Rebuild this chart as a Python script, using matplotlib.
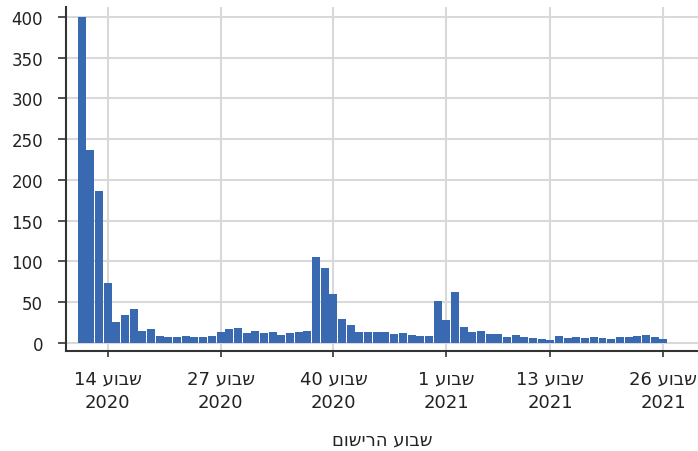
import matplotlib
matplotlib.use("Agg")
import matplotlib.pyplot as plt
import numpy as np

# Weekly counts (first bar = week 11 2020, last bar = week 26 2021)
counts = [400, 237, 186, 74, 25, 34, 41, 14, 17, 9,
          7, 7, 8, 7, 7, 8, 13, 17, 18, 12,
          14, 12, 13, 10, 12, 13, 14, 105, 92, 60,
          29, 22, 13, 13, 13, 13, 11, 12, 10, 8,
          8, 51, 28, 62, 19, 13, 15, 11, 11, 7,
          10, 7, 6, 5, 3, 8, 6, 7, 6, 7,
          6, 5, 7, 7, 8, 10, 7, 5]

tick_bar_index = [3, 16, 29, 42, 54, 67]
tick_labels = ["שבוע 14\n2020", "שבוע 27\n2020", "שבוע 40\n2020",
               "שבוע 1\n2021", "שבוע 13\n2021", "שבוע 26\n2021"]
x_title = "שבוע הרישום"
y_ticks = [0, 50, 100, 150, 200, 250, 300, 350, 400]


def is_heb(tok):
    return any('\u0590' <= c <= '\u05ff' for c in tok)


def visual_line(s):
    toks = s.split(' ')[::-1]
    return ' '.join(t[::-1] if is_heb(t) else t for t in toks)


def visual(s):
    return '\n'.join(visual_line(l) for l in s.split('\n'))


plt.rcParams['font.family'] = ['DejaVu Sans']

fig = plt.figure(figsize=(6.98, 4.52), dpi=100)
ax = fig.add_axes([66 / 698, 1 - 352 / 452, 1 - 66 / 698, (352 - 8) / 452])

x = np.arange(len(counts))
ax.bar(x, counts, width=0.92, color='#3969b1', zorder=2)

ax.set_xlim(-1.8, 71)
ax.set_ylim(-10, 412)
ax.set_yticks(y_ticks)
ax.set_yticklabels([str(v) for v in y_ticks], fontsize=12, color='#222222')
ax.set_xticks(tick_bar_index)
ax.set_xticklabels([visual(t) for t in tick_labels], fontsize=13,
                   color='#222222', linespacing=1.35, ha='center',
                   multialignment='center')

ax.grid(True, color='#d9d9d9', linewidth=1.5, zorder=0)
ax.set_axisbelow(True)

for side in ['top', 'right']:
    ax.spines[side].set_visible(False)
for side in ['left', 'bottom']:
    ax.spines[side].set_color('#333333')
    ax.spines[side].set_linewidth(1.5)

ax.tick_params(axis='y', length=5.5, width=1.2, color='#333333', pad=11)
ax.tick_params(axis='x', length=4.5, width=1.2, color='#333333', pad=9)

ax.set_xlabel(visual(x_title), fontsize=13, color='#222222', labelpad=14)

fig.savefig("out.png", dpi=100)
